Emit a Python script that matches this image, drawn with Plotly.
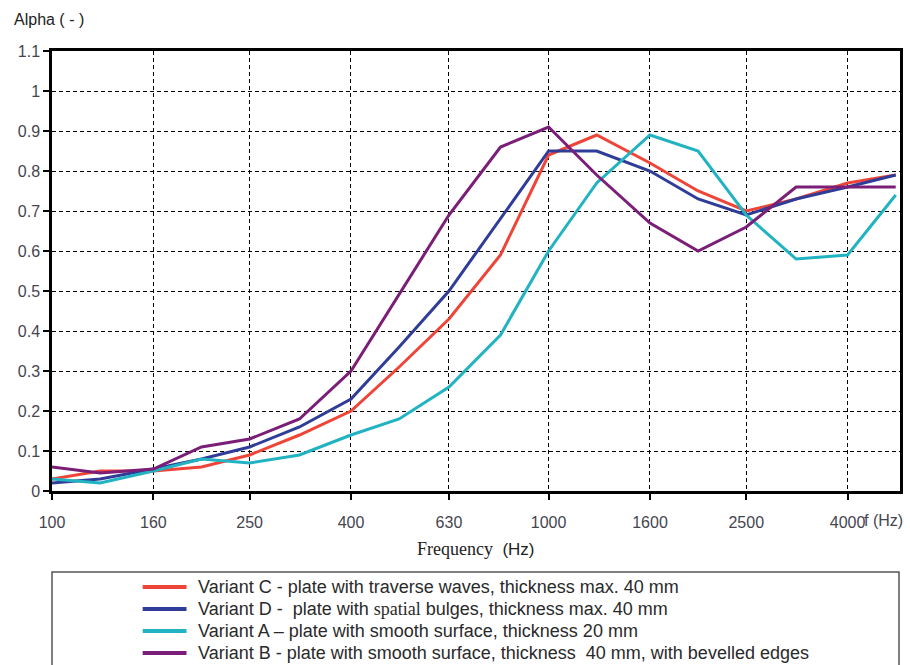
import plotly.graph_objects as go
import numpy as np

# Third-octave band centre frequencies (Hz)
freq = [100, 125, 160, 200, 250, 315, 400, 500, 630, 800,
        1000, 1250, 1600, 2000, 2500, 3150, 4000, 5000]

# Sound absorption coefficient per variant
alpha_c = [0.03, 0.05, 0.05, 0.06, 0.09, 0.14, 0.20, 0.31, 0.43, 0.59,
           0.84, 0.89, 0.82, 0.75, 0.70, 0.73, 0.77, 0.79]
alpha_d = [0.02, 0.03, 0.055, 0.08, 0.11, 0.16, 0.23, 0.36, 0.50, 0.68,
           0.85, 0.85, 0.80, 0.73, 0.69, 0.73, 0.76, 0.79]
alpha_a = [0.03, 0.02, 0.05, 0.08, 0.07, 0.09, 0.14, 0.18, 0.26, 0.39,
           0.60, 0.77, 0.89, 0.85, 0.69, 0.58, 0.59, 0.74]
alpha_b = [0.06, 0.045, 0.055, 0.11, 0.13, 0.18, 0.30, 0.49, 0.69, 0.86,
           0.91, 0.79, 0.67, 0.60, 0.66, 0.76, 0.76, 0.76]

x_ticks = [100, 160, 250, 400, 630, 1000, 1600, 2500, 4000]
y_ticks = [0, 0.1, 0.2, 0.3, 0.4, 0.5, 0.6, 0.7, 0.8, 0.9, 1, 1.1]
y_tick_text = ["0", "0.1", "0.2", "0.3", "0.4", "0.5", "0.6", "0.7", "0.8", "0.9", "1", "1.1"]

serif = "Liberation Serif"
names = [
    "Variant C - plate with traverse waves, thickness max. 40 mm",
    f"Variant D -  plate with <span style=\"font-family:{serif};font-size:18px\">spatial</span> bulges, thickness max. 40 mm",
    "Variant A \u2013 plate with smooth surface, thickness 20 mm",
    "Variant B - plate with smooth surface, thickness  40 mm, with bevelled edges",
]
colors = ["#ef4538", "#2f3c98", "#22b3c2", "#7a1e78"]
series = [alpha_c, alpha_d, alpha_a, alpha_b]

W, H = 910, 665
M_L, M_R, M_T, M_B = 52, 7, 51, 174
PW, PH = W - M_L - M_R, H - M_T - M_B


def px(xp):
    """Pixel column -> paper x."""
    return (xp - M_L) / PW


def py(yp):
    """Pixel row -> paper y."""
    return (H - M_B - yp) / PH


fig = go.Figure()
for name, col, vals in zip(names, colors, series):
    fig.add_trace(go.Scatter(x=freq, y=vals, mode="lines", name=name,
                             line=dict(color=col, width=3), showlegend=False))

tick_font = dict(family="Liberation Sans, Arial, sans-serif", size=16, color="#454550")

fig.update_layout(
    width=W, height=H,
    margin=dict(l=M_L, r=M_R, t=M_T, b=M_B),
    paper_bgcolor="white", plot_bgcolor="white",
    showlegend=False,
    xaxis=dict(
        type="log", range=[2, np.log10(5100)],
        tickvals=x_ticks, ticktext=[str(v) for v in x_ticks],
        tickfont=tick_font, ticks="outside", ticklen=6, tickwidth=1.5, tickcolor="black",
        ticklabelstandoff=9,
        showline=True, linecolor="black", linewidth=2.5, mirror=True,
        showgrid=True, gridcolor="black", gridwidth=1, griddash="4px,3px",
        zeroline=False,
    ),
    yaxis=dict(
        range=[0, 1.1], tickvals=y_ticks, ticktext=y_tick_text,
        tickfont=tick_font, ticks="outside", ticklen=6, tickwidth=1.5, tickcolor="black",
        showline=True, linecolor="black", linewidth=2.5, mirror=True,
        showgrid=True, gridcolor="black", gridwidth=1, griddash="4px,3px",
        zeroline=False,
    ),
)

# Legend: framed box below the plot with line samples and labels
fig.add_shape(type="rect", xref="paper", yref="paper",
              x0=px(52), x1=px(902), y0=py(680), y1=py(572),
              line=dict(color="#555555", width=1.5), fillcolor="rgba(0,0,0,0)")
legend_font = dict(family="Liberation Sans, Arial, sans-serif", size=18, color="#2a2a2a")
row_y = [587, 609, 631, 653]
for name, col, ry in zip(names, colors, row_y):
    fig.add_shape(type="line", xref="paper", yref="paper",
                  x0=px(143), x1=px(187), y0=py(ry), y1=py(ry),
                  line=dict(color=col, width=4))
    fig.add_annotation(xref="paper", yref="paper", x=px(197), y=py(ry),
                       xanchor="left", yanchor="middle", showarrow=False,
                       text=name, font=legend_font)

# Axis captions
fig.add_annotation(xref="paper", yref="paper", x=px(12), y=py(20),
                   xanchor="left", yanchor="middle", showarrow=False,
                   text="Alpha ( - )",
                   font=dict(family="Liberation Sans, Arial, sans-serif", size=16, color="#222"))
fig.add_annotation(xref="paper", yref="paper", x=px(478), y=py(549),
                   xanchor="center", yanchor="middle", showarrow=False,
                   text=f"<span style=\"font-family:{serif};font-size:18px\">Frequency</span>  (Hz)",
                   font=dict(family="Liberation Sans, Arial, sans-serif", size=17, color="#222"))
fig.add_annotation(xref="paper", yref="paper", x=px(908), y=py(520),
                   xanchor="right", yanchor="middle", showarrow=False,
                   text="f (Hz)", font=tick_font)

fig.write_html("out.html")
